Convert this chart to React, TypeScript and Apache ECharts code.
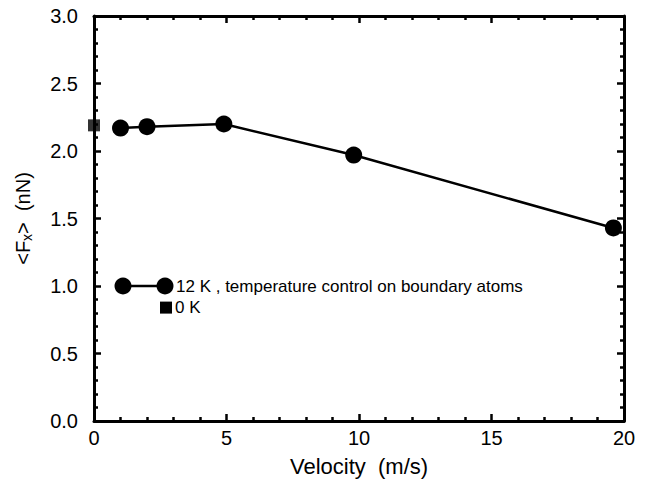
import React, { useEffect, useRef } from "react";
import * as echarts from "echarts";

const velocity12K = [1, 2, 4.9, 9.8, 19.6];
const force12K = [2.17, 2.18, 2.2, 1.97, 1.43];
const velocity0K = [0];
const force0K = [2.19];
const xTicks = [0, 5, 10, 15, 20];
const yTicks = [0, 0.5, 1, 1.5, 2, 2.5, 3];
const legendLabels = ["12 K , temperature control on boundary atoms", "0 K"];

const FONT = "Liberation Sans, Arial, Helvetica, sans-serif";

export default function App() {
  const ref = useRef<HTMLDivElement>(null);
  useEffect(() => {
    if (!ref.current) return;
    const chart = echarts.init(ref.current, undefined, { renderer: "svg" });
    const axisCommon = {
      axisLine: { show: true, onZero: false, lineStyle: { color: "#000", width: 3 } },
      axisTick: { show: true, inside: true, length: 7, lineStyle: { color: "#000", width: 2.5 } },
      minorTick: { show: true, splitNumber: 5, length: 4, lineStyle: { color: "#000", width: 2.5 } },
      splitLine: { show: false },
      minorSplitLine: { show: false },
    };
    const gridLeft = 94, gridTop = 16, gridRight = 28, gridBottom = 61;
    const plotH = 482 - gridTop - gridBottom;
    const py = (v: number) => gridTop + plotH - (v / yTicks[yTicks.length - 1]) * plotH;
    const legY1 = py(1.0);
    const legY2 = py(0.84);
    chart.setOption({
      animation: false,
      backgroundColor: "#fff",
      grid: { left: gridLeft, top: gridTop, right: gridRight, bottom: gridBottom },
      xAxis: [
        {
          type: "value", min: xTicks[0], max: xTicks[xTicks.length - 1], interval: 5, position: "bottom",
          ...axisCommon,
          axisLabel: { color: "#000", fontSize: 20, fontFamily: FONT, margin: 7 },
          name: "Velocity  (m/s)", nameLocation: "middle", nameGap: 34,
          nameTextStyle: { color: "#000", fontSize: 22, fontFamily: FONT, verticalAlign: "top" },
        },
        {
          type: "value", min: xTicks[0], max: xTicks[xTicks.length - 1], interval: 5, position: "top",
          ...axisCommon, axisLabel: { show: false },
        },
      ],
      yAxis: [
        {
          type: "value", min: yTicks[0], max: yTicks[yTicks.length - 1], interval: 0.5, position: "left",
          ...axisCommon,
          axisLabel: { color: "#000", fontSize: 20, fontFamily: FONT, margin: 16, formatter: (v: number) => v.toFixed(1) },
          name: "{a|<F}{s|x}{a|>  (nN)}", nameLocation: "middle", nameGap: 60, nameRotate: 90,
          nameTextStyle: {
            color: "#000", fontSize: 20, fontFamily: FONT,
            rich: {
              a: { color: "#000", fontSize: 20, fontFamily: FONT },
              s: { color: "#000", fontSize: 14, fontFamily: FONT, verticalAlign: "bottom", padding: [9, 0, 0, 0] },
            },
          },
        },
        {
          type: "value", min: yTicks[0], max: yTicks[yTicks.length - 1], interval: 0.5, position: "right",
          ...axisCommon, axisLabel: { show: false },
        },
      ],
      series: [
        {
          type: "line",
          data: velocity12K.map((v, i) => [v, force12K[i]]),
          symbol: "circle", symbolSize: 17,
          lineStyle: { color: "#000", width: 2.5 },
          itemStyle: { color: "#000" },
          xAxisIndex: 0, yAxisIndex: 0,
          z: 5,
        },
        {
          type: "scatter",
          data: velocity0K.map((v, i) => [v, force0K[i]]),
          symbol: "rect", symbolSize: 12,
          itemStyle: { color: "#000" },
          xAxisIndex: 0, yAxisIndex: 0,
          z: 6,
        },
      ],
      graphic: [
        { type: "line", shape: { x1: 123, y1: legY1, x2: 165, y2: legY1 }, style: { stroke: "#000", lineWidth: 2.5 }, z: 10 },
        { type: "circle", shape: { cx: 123, cy: legY1, r: 8.5 }, style: { fill: "#000" }, z: 11 },
        { type: "circle", shape: { cx: 165, cy: legY1, r: 8.5 }, style: { fill: "#000" }, z: 11 },
        { type: "text", x: 176, y: legY1, style: { text: legendLabels[0], fill: "#000", fontSize: 17, fontFamily: FONT, verticalAlign: "middle" }, z: 11 },
        { type: "rect", shape: { x: 160, y: legY2 - 6, width: 12, height: 12 }, style: { fill: "#000" }, z: 11 },
        { type: "text", x: 175, y: legY2, style: { text: legendLabels[1], fill: "#000", fontSize: 17, fontFamily: FONT, verticalAlign: "middle" }, z: 11 },
      ],
    });
    return () => chart.dispose();
  }, []);
  return <div ref={ref} style={{ width: 652, height: 482, position: "absolute", left: 0, top: 0 }} />;
}
